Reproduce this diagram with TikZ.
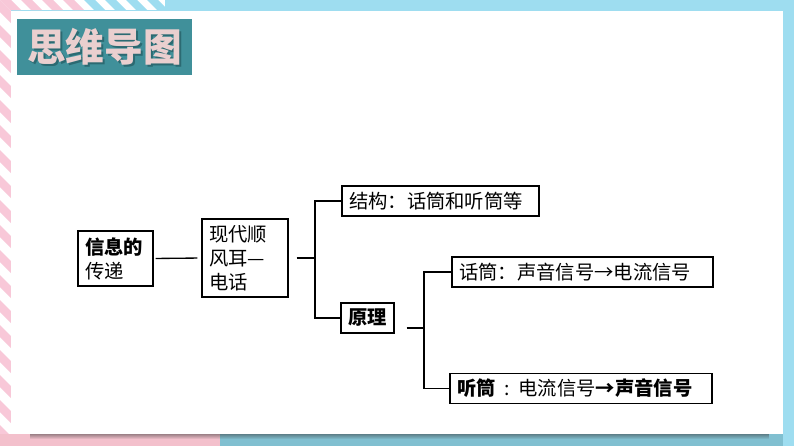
\documentclass[tikz,border=0pt]{standalone}
\usepackage{fontspec}
\setmainfont{Noto Sans CJK SC}
\usetikzlibrary{fadings}
\definecolor{lblue}{HTML}{9EDDF0}
\definecolor{bblue}{HTML}{80BFD0}
\definecolor{spink}{HTML}{F8C8D8}
\definecolor{bpink}{HTML}{F3C0CC}
\definecolor{teal1}{HTML}{40909A}
\definecolor{titletxt}{HTML}{EACFCF}
\definecolor{titleshadow}{HTML}{2C6A72}
\tikzset{
  box/.style={draw=black, line width=1pt, inner xsep=5.25pt, inner ysep=2pt,
    align=left, font=\fontsize{14.5pt}{18pt}\selectfont},
  conn/.style={draw=black, line width=1pt},
}
\begin{document}
\begin{tikzpicture}[x=0.75pt,y=-0.75pt]
\useasboundingbox (0,0) rectangle (794,446);
% background
\fill[lblue] (0,0) rectangle (794,446);
\fill[white] (0,0) rectangle (11,446);
\fill[white] (0,0) rectangle (165,10);
\begin{scope}
  \clip (0,0) rectangle (11,446);
  \foreach \i in {-1,...,19} {
    \fill[spink] (0,{\i*25}) -- (0,{\i*25+12}) -- (11,{\i*25+23}) -- (11,{\i*25+11}) -- cycle;
  }
\end{scope}
\begin{scope}
  \clip (0,0) rectangle (165,10);
  \foreach \i in {-1,...,8} {
    \pgfmathsetmacro{\xa}{\i*21}
    \ifdim\xa pt<80pt
      \fill[spink] (\xa,0) -- ({\xa+11},0) -- ({\xa+21},10) -- ({\xa+10},10) -- cycle;
    \else
      \fill[lblue] (\xa,0) -- ({\xa+11},0) -- ({\xa+21},10) -- ({\xa+10},10) -- cycle;
    \fi
  }
\end{scope}
\fill[bpink] (0,434) rectangle (220,446);
\fill[bblue] (220,434) rectangle (783,446);
\fill[black!80, path fading=south, opacity=0.45] (30,434) rectangle (770,439);
\fill[white] (11,11) rectangle (783,434);
% title
\fill[teal1] (17,19) rectangle (192,75);
\node[text=titleshadow, font=\fontsize{29pt}{30pt}\selectfont\bfseries] (titleS) at (106.5,49) {思维导图};
\node[text=titletxt, font=\fontsize{29pt}{30pt}\selectfont\bfseries] (title) at (104.5,47) {思维导图};
% nodes
\node[box, text width=45.75pt, minimum height=41.25pt] (info) at (115.5,258.5) {\textbf{信息的}\\传递};
\node[box, text width=54pt, minimum height=58.5pt] (modern) at (245,258) {现代顺\\风耳—\\电话};
\node[box, text width=137.25pt, minimum height=22.5pt] (struct) at (440.5,201) {结构：话筒和听筒等};
\node[box, inner xsep=3pt, minimum width=39.75pt, minimum height=22.5pt, align=center] (yuan) at (367.5,318) {\textbf{原理}};
\node[box, text width=185.25pt, minimum height=22.5pt] (mic) at (582.5,272) {话筒：声音信号→电流信号};
\node[box, text width=186pt, minimum height=22.5pt] (ear) at (581,388.5) {\textbf{听筒}\hspace{0.45em}:\hspace{0.45em}电流信号\textbf{→声音信号}};
% connectors
\coordinate (j1) at (315,258);
\coordinate (j2) at (424,328);
\draw[conn, shorten <=1.5pt, shorten >=3pt] (info.east) -- (modern.west);
\draw[conn] ([xshift=6pt]modern.east) -- (j1);
\draw[conn] (struct.west) -| (j1) |- (yuan.west);
\draw[conn] ([xshift=9pt,yshift=-7.5pt]yuan.east) -- (j2);
\draw[conn] (mic.west) -| (j2) |- (ear.west);
\end{tikzpicture}
\end{document}
